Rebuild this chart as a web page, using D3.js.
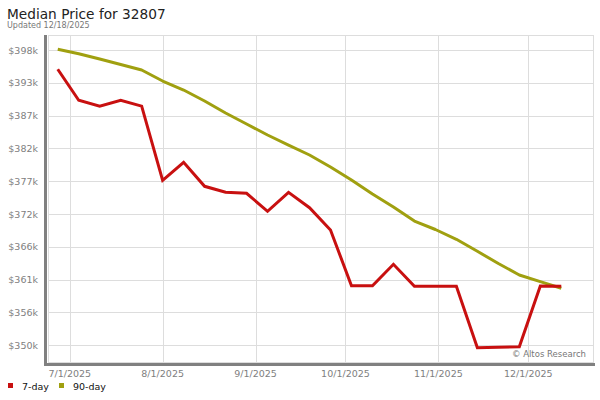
<!DOCTYPE html>
<html>
<head>
<meta charset="utf-8">
<script src="https://cdn.jsdelivr.net/npm/d3@7"></script>
<style>
  body { margin: 0; background: #fff; }
  text { font-family: "DejaVu Sans", sans-serif; }
</style>
</head>
<body>
<svg id="chart" width="600" height="400"></svg>
<script>
// weekly points, in $k
var dates = ["2025-06-27","2025-07-04","2025-07-11","2025-07-18","2025-07-25","2025-08-01","2025-08-08",
  "2025-08-15","2025-08-22","2025-08-29","2025-09-05","2025-09-12","2025-09-19","2025-09-26","2025-10-03",
  "2025-10-10","2025-10-17","2025-10-24","2025-10-31","2025-11-07","2025-11-14","2025-11-21","2025-11-28",
  "2025-12-05","2025-12-12"];
var day7 = [394.95, 389.94, 388.97, 389.94, 389.0, 377.0, 379.92, 376.04, 375.07, 374.91, 372.0, 375.07,
  372.58, 368.98, 359.98, 359.98, 363.44, 359.88, 359.88, 359.88, 349.96, 350.04, 350.12, 359.93, 359.88];
var day90 = [398.18, 397.45, 396.61, 395.72, 394.83, 393.05, 391.6, 389.82, 387.88, 386.11, 384.33, 382.71,
  381.1, 379.16, 377.06, 374.8, 372.7, 370.43, 369.06, 367.48, 365.54, 363.57, 361.71, 360.63, 359.56];
var yTicks = [350.35, 355.65, 360.95, 366.25, 371.55, 376.85, 382.15, 387.45, 392.75, 398.05];
var xTicks = ["2025-07-01","2025-08-01","2025-09-01","2025-10-01","2025-11-01","2025-12-01"];

var parse = d3.utcParse("%Y-%m-%d");
var svg = d3.select("#chart");
var pl = 48, pr = 593, pt = 35, pb = 362;

var x = d3.scaleUtc()
  .domain([new Date(Date.UTC(2025, 5, 23, 18)), new Date(Date.UTC(2025, 11, 22, 14))])
  .range([pl, pr]);
var y = d3.scaleLinear().domain([347.65, 400.49]).range([pb, pt]);

// title
svg.append("text").attr("x", 7).attr("y", 19).attr("font-size", 13.7).attr("fill", "#222")
  .text("Median Price for 32807");
svg.append("text").attr("x", 7).attr("y", 28).attr("font-size", 8).attr("fill", "#777")
  .text("Updated 12/18/2025");

// grid
svg.append("g").selectAll("line").data(yTicks).enter().append("line")
  .attr("x1", pl).attr("x2", pr)
  .attr("y1", d => Math.round(y(d)) + 0.5).attr("y2", d => Math.round(y(d)) + 0.5)
  .attr("stroke", "#ddd");
svg.append("g").selectAll("line").data(xTicks).enter().append("line")
  .attr("x1", d => Math.round(x(parse(d))) + 0.5).attr("x2", d => Math.round(x(parse(d))) + 0.5)
  .attr("y1", pt).attr("y2", pb)
  .attr("stroke", "#ddd");
svg.append("rect").attr("x", pl + 0.5).attr("y", pt + 0.5)
  .attr("width", pr - pl).attr("height", pb - pt)
  .attr("fill", "none").attr("stroke", "#ddd");

// axes bars
svg.append("rect").attr("x", 44).attr("y", pt).attr("width", 3).attr("height", pb - pt + 4).attr("fill", "#808080");
svg.append("rect").attr("x", 44).attr("y", 363).attr("width", 551).attr("height", 3).attr("fill", "#808080");

// axis labels
svg.append("g").selectAll("text").data(yTicks).enter().append("text")
  .attr("x", 38).attr("y", d => y(d) + 3.5)
  .attr("text-anchor", "end").attr("font-size", 9.5).attr("fill", "#808080")
  .text(d => "$" + Math.round(d) + "k");
svg.append("g").selectAll("text").data(xTicks).enter().append("text")
  .attr("x", d => x(parse(d))).attr("y", 377)
  .attr("text-anchor", "middle").attr("font-size", 9.5).attr("fill", "#808080")
  .text(d => d3.utcFormat("%-m/%-d/%Y")(parse(d)));

// lines
var line = d3.line().x((d, i) => x(parse(dates[i]))).y(d => y(d));
svg.append("path").datum(day90).attr("d", line)
  .attr("fill", "none").attr("stroke", "#a0a010").attr("stroke-width", 3).attr("stroke-linejoin", "round");
svg.append("path").datum(day7).attr("d", line)
  .attr("fill", "none").attr("stroke", "#c81010").attr("stroke-width", 3).attr("stroke-linejoin", "miter");

svg.append("text").attr("x", 586).attr("y", 357).attr("text-anchor", "end")
  .attr("font-size", 8.5).attr("fill", "#777").text("© Altos Research");

// legend
var legend = [{name: "7-day", color: "#c81010", x: 8}, {name: "90-day", color: "#a0a010", x: 59}];
var lg = svg.append("g").selectAll("g").data(legend).enter().append("g");
lg.append("rect").attr("x", d => d.x).attr("y", 383).attr("width", 5).attr("height", 5).attr("fill", d => d.color);
lg.append("text").attr("x", d => d.x + 14).attr("y", 390).attr("font-size", 9.5).attr("fill", "#111").text(d => d.name);
</script>
</body>
</html>
